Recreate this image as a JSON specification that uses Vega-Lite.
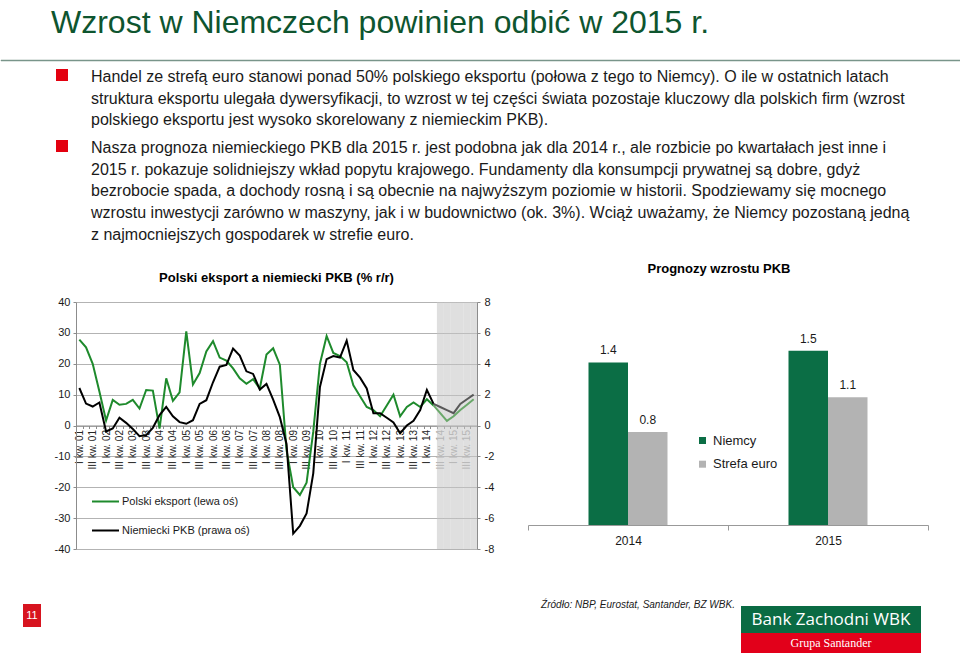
{
"$schema": "https://vega.github.io/schema/vega-lite/v6.json",
"padding": 0,
"background": "white",
"config": {"view": {"stroke": null}, "font": "Liberation Sans", "concat": {"spacing": 0}},
"datasets": {
"pusty": [{}],
"kw": [
{"kwartal":"2001-02-15","eksport":27.8,"pkb":2.43},
{"kwartal":"2001-05-15","eksport":25.3,"pkb":1.42},
{"kwartal":"2001-08-15","eksport":20,"pkb":1.23},
{"kwartal":"2001-11-15","eksport":11,"pkb":1.49},
{"kwartal":"2002-02-15","eksport":1.6,"pkb":-0.39},
{"kwartal":"2002-05-15","eksport":8.3,"pkb":-0.19},
{"kwartal":"2002-08-15","eksport":6.7,"pkb":0.5},
{"kwartal":"2002-11-15","eksport":7.0,"pkb":0.17},
{"kwartal":"2003-02-15","eksport":8.3,"pkb":-0.22},
{"kwartal":"2003-05-15","eksport":5.5,"pkb":-0.69},
{"kwartal":"2003-08-15","eksport":11.5,"pkb":-0.62},
{"kwartal":"2003-11-15","eksport":11.3,"pkb":-0.15},
{"kwartal":"2004-02-15","eksport":-1.0,"pkb":0.67},
{"kwartal":"2004-05-15","eksport":15.3,"pkb":1.2},
{"kwartal":"2004-08-15","eksport":8.0,"pkb":0.6},
{"kwartal":"2004-11-15","eksport":10.7,"pkb":0.22},
{"kwartal":"2005-02-15","eksport":30.5,"pkb":0.11},
{"kwartal":"2005-05-15","eksport":13.3,"pkb":0.34},
{"kwartal":"2005-08-15","eksport":17.0,"pkb":1.4},
{"kwartal":"2005-11-15","eksport":24.0,"pkb":1.64},
{"kwartal":"2006-02-15","eksport":27.3,"pkb":2.8},
{"kwartal":"2006-05-15","eksport":22.0,"pkb":3.81},
{"kwartal":"2006-08-15","eksport":21.0,"pkb":3.92},
{"kwartal":"2006-11-15","eksport":18.5,"pkb":4.98},
{"kwartal":"2007-02-15","eksport":15.3,"pkb":4.53},
{"kwartal":"2007-05-15","eksport":13.5,"pkb":3.51},
{"kwartal":"2007-08-15","eksport":15.0,"pkb":3.34},
{"kwartal":"2007-11-15","eksport":12.0,"pkb":2.33},
{"kwartal":"2008-02-15","eksport":23.0,"pkb":2.69},
{"kwartal":"2008-05-15","eksport":25.0,"pkb":1.68},
{"kwartal":"2008-08-15","eksport":19.7,"pkb":0.54},
{"kwartal":"2008-11-15","eksport":-8,"pkb":-1.2},
{"kwartal":"2009-02-15","eksport":-20,"pkb":-7.0},
{"kwartal":"2009-05-15","eksport":-22.5,"pkb":-6.5},
{"kwartal":"2009-08-15","eksport":-18.5,"pkb":-5.7},
{"kwartal":"2009-11-15","eksport":-2,"pkb":-3.1},
{"kwartal":"2010-02-15","eksport":20,"pkb":2.5},
{"kwartal":"2010-05-15","eksport":29,"pkb":4.3},
{"kwartal":"2010-08-15","eksport":23.5,"pkb":4.5},
{"kwartal":"2010-11-15","eksport":22.5,"pkb":4.4},
{"kwartal":"2011-02-15","eksport":20.5,"pkb":5.5},
{"kwartal":"2011-05-15","eksport":13,"pkb":3.6},
{"kwartal":"2011-08-15","eksport":9.5,"pkb":3.1},
{"kwartal":"2011-11-15","eksport":6,"pkb":2.4},
{"kwartal":"2012-02-15","eksport":5,"pkb":0.8},
{"kwartal":"2012-05-15","eksport":3,"pkb":0.8},
{"kwartal":"2012-08-15","eksport":6.5,"pkb":0.5},
{"kwartal":"2012-11-15","eksport":10,"pkb":0.2},
{"kwartal":"2013-02-15","eksport":3,"pkb":-0.5},
{"kwartal":"2013-05-15","eksport":6,"pkb":0.0},
{"kwartal":"2013-08-15","eksport":7.5,"pkb":0.3},
{"kwartal":"2013-11-15","eksport":6,"pkb":1.0},
{"kwartal":"2014-02-15","eksport":8.5,"pkb":2.3},
{"kwartal":"2014-05-15","eksport":6.5,"pkb":1.4,"eksport_prognoza":6.5,"pkb_prognoza":1.4},
{"kwartal":"2014-08-15","eksport_prognoza":4,"pkb_prognoza":1.2},
{"kwartal":"2014-11-15","eksport_prognoza":1.5,"pkb_prognoza":1.0},
{"kwartal":"2015-02-15","eksport_prognoza":3,"pkb_prognoza":0.8},
{"kwartal":"2015-05-15","eksport_prognoza":5,"pkb_prognoza":1.4},
{"kwartal":"2015-08-15","eksport_prognoza":6.75,"pkb_prognoza":1.7},
{"kwartal":"2015-11-15","eksport_prognoza":8.5,"pkb_prognoza":2.0}
],
"okres_prognozy": [
{"kwartal":"2014-08-15"},{"kwartal":"2014-11-15"},{"kwartal":"2015-02-15"},{"kwartal":"2015-05-15"},{"kwartal":"2015-08-15"},{"kwartal":"2015-11-15"}
]
},
"bounds": "flush",
"spacing": 0,
"vconcat": [
{"width": 1, "height": 59, "data": {"name": "pusty"}, "mark": "rule", "encoding": {}},
{"width": 960, "height": 1, "view": {"fill": "#7a958b", "stroke": "#7a958b", "strokeWidth": 0.5},
 "title": {"text": "Wzrost w Niemczech powinien odbić w 2015 r.", "anchor": "start", "frame": "group", "baseline": "alphabetic", "offset": -5, "dx": 50, "font": "Liberation Sans", "fontSize": 32, "fontWeight": "normal", "color": "#0e552f"},
 "data": {"name": "pusty"}, "mark": "rule", "encoding": {}},
{"width": 1, "height": 8, "data": {"name": "pusty"}, "mark": "rule", "encoding": {}},
{"width": 960, "height": 71,
 "data": {"values": [
  {"akapit": 1, "element": "znacznik"},
  {"akapit": 2, "element": "znacznik"},
  {"akapit": 1, "element": "tekst", "tekst": "Handel ze strefą euro stanowi ponad 50% polskiego eksportu (połowa z tego to Niemcy). O ile w ostatnich latach\nstruktura eksportu ulegała dywersyfikacji, to wzrost w tej części świata pozostaje kluczowy dla polskich firm (wzrost\npolskiego eksportu jest wysoko skorelowany z niemieckim PKB)."},
  {"akapit": 2, "element": "tekst", "tekst": "Nasza prognoza niemieckiego PKB dla 2015 r. jest podobna jak dla 2014 r., ale rozbicie po kwartałach jest inne i\n2015 r. pokazuje solidniejszy wkład popytu krajowego. Fundamenty dla konsumpcji prywatnej są dobre, gdyż\nbezrobocie spada, a dochody rosną i są obecnie na najwyższym poziomie w historii. Spodziewamy się mocnego\nwzrostu inwestycji zarówno w maszyny, jak i w budownictwo (ok. 3%). Wciąż uważamy, że Niemcy pozostaną jedną\nz najmocniejszych gospodarek w strefie euro."}
 ]},
 "encoding": {
  "x": {"field": "element", "type": "nominal", "scale": {"type": "point", "domain": ["znacznik", "tekst"], "range": [61, 90], "padding": 0}, "axis": null},
  "y": {"field": "akapit", "type": "ordinal", "scale": {"type": "point", "range": [0, 71], "padding": 0}, "axis": null}
 },
 "layer": [
  {"transform": [{"filter": "datum.element === 'znacznik'"}],
   "mark": {"type": "point", "shape": "M-1,0H1V2H-1Z", "size": 144, "filled": true, "color": "#e3000f", "opacity": 1}},
  {"transform": [{"filter": "datum.element === 'tekst'"}],
   "mark": {"type": "text", "align": "left", "baseline": "top", "lineBreak": "\n", "fontSize": 16, "lineHeight": 21.7, "color": "#1a1a1a"},
   "encoding": {"text": {"field": "tekst", "type": "nominal"}}}
 ]
},
{"width": 1, "height": 162, "data": {"name": "pusty"}, "mark": "rule", "encoding": {}},
{"hconcat": [
  {"width": 24, "height": 1, "data": {"name": "pusty"}, "mark": "rule", "encoding": {}},
  {"width": 401, "height": 247,
   "title": {"text": "Polski eksport a niemiecki PKB (% r/r)", "fontSize": 13, "fontWeight": "bold", "color": "#000000", "baseline": "alphabetic", "offset": 1.5, "anchor": "middle", "frame": "group"},
   "encoding": {"x": {"field": "kwartal", "timeUnit": "yearquarter", "type": "ordinal", "title": null,
     "scale": {"paddingInner": 0, "paddingOuter": 0},
     "axis": {"orient": "bottom", "offset": -123.5, "labelAngle": -90, "labelAlign": "right", "labelBaseline": "middle", "labelFontSize": 10, "labelPadding": 1, "labelOverlap": false,
       "labelExpr": "month(datum.value) == 0 ? 'I kw. ' + timeFormat(datum.value, '%y') : (month(datum.value) == 6 ? 'III kw. ' + timeFormat(datum.value, '%y') : '')",
       "labelColor": {"condition": {"test": "datum.value >= datetime(2014, 6, 1)", "value": "#a6a6a6"}, "value": "#262626"},
       "domainColor": "#8c8c8c", "tickColor": "#8c8c8c", "tickSize": 3, "tickBand": "extent", "grid": false}}},
   "layer": [
    {"data": {"name": "okres_prognozy"}, "mark": {"type": "bar", "color": "#c4c4c4", "opacity": 0.55}},
    {"data": {"name": "kw"},
     "transform": [{"fold": ["eksport", "eksport_prognoza"], "as": ["seria", "wartosc"]}, {"filter": "isValid(datum.wartosc)"}],
     "mark": {"type": "line", "strokeWidth": 2},
     "encoding": {
      "y": {"field": "wartosc", "type": "quantitative", "title": null, "scale": {"domain": [-40, 40], "nice": false},
        "axis": {"orient": "left", "values": [-40, -30, -20, -10, 0, 10, 20, 30, 40], "labelExpr": "replace(datum.label, '−', '-')", "grid": true, "gridColor": "#b3b3b3", "domainColor": "#8c8c8c", "tickColor": "#8c8c8c", "tickSize": 3, "labelPadding": 3, "labelFontSize": 11, "labelColor": "#1a1a1a"}},
      "color": {"field": "seria", "type": "nominal",
        "scale": {"domain": ["eksport", "pkb", "eksport_prognoza", "pkb_prognoza"], "range": ["#1e8a2c", "#000000", "#6aa86a", "#595959"]},
        "legend": {"orient": "none", "legendX": 15, "legendY": 185, "padding": 0, "title": null, "values": ["eksport", "pkb"],
          "labelExpr": "datum.value == 'eksport' ? 'Polski eksport (lewa oś)' : 'Niemiecki PKB (prawa oś)'",
          "symbolType": "stroke", "symbolSize": 729, "symbolStrokeWidth": 2, "rowPadding": 9, "labelFontSize": 11, "labelColor": "#1a1a1a", "labelOffset": 2}}
     }},
    {"data": {"name": "kw"},
     "transform": [{"fold": ["pkb", "pkb_prognoza"], "as": ["seria", "wartosc"]}, {"filter": "isValid(datum.wartosc)"}],
     "mark": {"type": "line", "strokeWidth": 2},
     "encoding": {
      "y": {"field": "wartosc", "type": "quantitative", "title": null, "scale": {"domain": [-8, 8], "nice": false},
        "axis": {"orient": "right", "values": [-8, -6, -4, -2, 0, 2, 4, 6, 8], "labelExpr": "replace(datum.label, '−', '-')", "grid": false, "domainColor": "#8c8c8c", "tickColor": "#8c8c8c", "tickSize": 3, "labelPadding": 4, "labelFontSize": 11, "labelColor": "#1a1a1a"}},
      "color": {"field": "seria", "type": "nominal",
        "scale": {"domain": ["eksport", "pkb", "eksport_prognoza", "pkb_prognoza"], "range": ["#1e8a2c", "#000000", "#6aa86a", "#595959"]},
        "legend": {"orient": "none", "legendX": 15, "legendY": 185, "padding": 0, "title": null, "values": ["eksport", "pkb"],
          "labelExpr": "datum.value == 'eksport' ? 'Polski eksport (lewa oś)' : 'Niemiecki PKB (prawa oś)'",
          "symbolType": "stroke", "symbolSize": 729, "symbolStrokeWidth": 2, "rowPadding": 9, "labelFontSize": 11, "labelColor": "#1a1a1a", "labelOffset": 2}}
     }}
   ],
   "resolve": {"scale": {"y": "independent"}}
  },
  {"width": 400, "height": 223,
   "title": {"text": "Prognozy wzrostu PKB", "fontSize": 13, "fontWeight": "bold", "color": "#000000", "baseline": "alphabetic", "offset": 16.3, "dx": -9, "anchor": "middle", "frame": "group"},
   "data": {"values": [
     {"rok": "2014", "kraj": "Niemcy", "wartosc": 1.4},
     {"rok": "2014", "kraj": "Strefa euro", "wartosc": 0.8},
     {"rok": "2015", "kraj": "Niemcy", "wartosc": 1.5},
     {"rok": "2015", "kraj": "Strefa euro", "wartosc": 1.1}
   ]},
   "encoding": {
    "x": {"field": "rok", "type": "nominal", "title": null, "scale": {"paddingInner": 0, "paddingOuter": 0},
      "axis": {"labelAngle": 0, "labelFontSize": 12, "labelColor": "#1a1a1a", "domainColor": "#999999", "tickColor": "#999999", "tickBand": "extent", "tickSize": 5, "labelPadding": 5}},
    "xOffset": {"field": "kraj", "type": "nominal", "sort": ["Niemcy", "Strefa euro"], "scale": {"range": [60.5, 139.5], "paddingOuter": 0, "paddingInner": 0}},
    "y": {"field": "wartosc", "type": "quantitative", "scale": {"domain": [0, 1.92], "nice": false}, "axis": null}
   },
   "layer": [
    {"mark": {"type": "bar"},
     "encoding": {"color": {"field": "kraj", "type": "nominal", "scale": {"domain": ["Niemcy", "Strefa euro"], "range": ["#0b6e45", "#b3b3b3"]},
       "legend": {"orient": "none", "legendX": 168, "legendY": 132, "padding": 0, "title": null, "symbolType": "square", "symbolSize": 49, "symbolStrokeWidth": 0, "labelFontSize": 13, "labelColor": "#1a1a1a", "rowPadding": 9.7, "labelOffset": 4}}}},
    {"mark": {"type": "text", "dy": -8, "baseline": "alphabetic", "fontSize": 12, "color": "#1a1a1a"},
     "encoding": {"text": {"field": "wartosc", "type": "quantitative", "format": ".1f"}}}
   ]
  }
 ], "spacing": 51, "bounds": "flush",
 "resolve": {"scale": {"color": "independent"}, "legend": {"color": "independent"}}},
{"width": 1, "height": 302, "data": {"name": "pusty"}, "mark": "rule", "encoding": {}},
{"hconcat": [
  {"width": 22, "height": 1, "data": {"name": "pusty"}, "mark": "rule", "encoding": {}},
  {"width": 18, "height": 23, "view": {"fill": "#d7141f", "stroke": null},
   "data": {"values": [{"strona": "11"}]},
   "mark": {"type": "text", "color": "#ffffff", "fontSize": 11},
   "encoding": {"text": {"field": "strona", "type": "nominal"}}},
  {"width": 494, "height": 1, "data": {"name": "pusty"}, "mark": "rule", "encoding": {}},
  {"width": 206, "height": 2,
   "data": {"values": [{"zrodlo": "Źródło: NBP, Eurostat, Santander, BZ WBK."}]},
   "mark": {"type": "text", "fontStyle": "italic", "fontSize": 10, "color": "#1a1a1a"},
   "encoding": {"text": {"field": "zrodlo", "type": "nominal"}}},
  {"vconcat": [
    {"width": 180, "height": 2, "data": {"name": "pusty"}, "mark": "rule", "encoding": {}},
    {"width": 180, "height": 27, "view": {"fill": "#0a6b43", "stroke": null},
     "data": {"values": [{"bank": "Bank Zachodni WBK"}]},
     "mark": {"type": "text", "color": "#ffffff", "fontSize": 17, "font": "Open Sans"},
     "encoding": {"text": {"field": "bank", "type": "nominal"}}},
    {"width": 180, "height": 20, "view": {"fill": "#e2001a", "stroke": null},
     "data": {"values": [{"grupa": "Grupa Santander"}]},
     "mark": {"type": "text", "color": "#ffffff", "fontSize": 12, "font": "Liberation Serif"},
     "encoding": {"text": {"field": "grupa", "type": "nominal"}}}
   ], "spacing": 0, "bounds": "flush"}
 ], "spacing": 0, "bounds": "flush"}
]
}
